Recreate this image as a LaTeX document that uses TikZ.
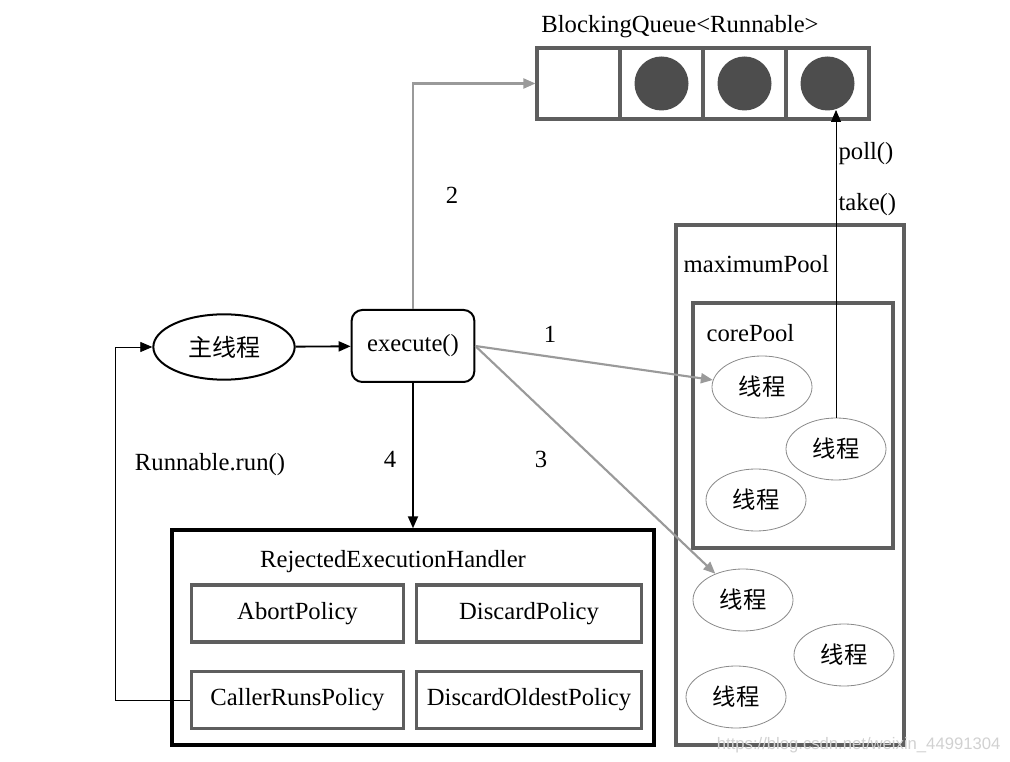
\documentclass[tikz,border=0pt]{standalone}
\usepackage{fontspec}
\setmainfont{Liberation Serif}
\newfontfamily\cjk{Noto Sans CJK SC}
\newfontfamily\marksans{Liberation Sans}
\usetikzlibrary{shapes.geometric,arrows.meta}
\definecolor{boxgray}{HTML}{5E5E5E}
\definecolor{linegray}{HTML}{9A9A9A}
\definecolor{dotgray}{HTML}{4D4D4D}
\definecolor{ringgray}{HTML}{8A8A8A}
\begin{document}
\begin{tikzpicture}[x=0.75pt,y=-0.75pt,font=\fontsize{18.5}{22}\selectfont,
    box/.style={draw=boxgray,line width=2.6pt},
    cell/.style={box,minimum width=62pt,minimum height=53pt,inner sep=0pt},
    policy/.style={box,minimum height=42.5pt,inner sep=0pt},
    thread/.style={ellipse,draw=ringgray,line width=0.6pt,inner sep=0pt,
        minimum width=75pt,minimum height=46.5pt,font=\cjk\fontsize{17.5}{20}\selectfont},
    grayarrow/.style={draw=linegray,line width=1.6pt,
        -{Triangle[length=9pt,width=7.5pt]}},
    blackarrow/.style={line width=1.4pt,-{Triangle[length=9pt,width=7.5pt]}},
    thinarrow/.style={line width=0.6pt,-{Triangle[length=9pt,width=7.5pt]}},
    tag/.style={inner sep=1pt}]
\useasboundingbox (0,0) rectangle (1010,762);

\node[tag] (qlabel) at (680,27) {BlockingQueue<Runnable>};
\foreach \i/\x in {0/578.5,1/661.5,2/744.5,3/827.5}
    \node[cell] (q\i) at (\x,83.5) {};
\foreach \i in {1,2,3}
    \node[circle,fill=dotgray,minimum size=40.5pt,inner sep=0pt] (d\i) at (q\i) {};

\draw[box] (676,225) rectangle (904,745);
\node[tag,anchor=west] (maxlabel) at (682,264) {maximumPool};
\draw[box] (693,303) rectangle (893,548);
\node[tag,anchor=west] (corelabel) at (705,333) {corePool};

\node[thread] (t1) at (762,387) {线程};
\node[thread] (t2) at (836,449) {线程};
\node[thread] (t3) at (756,500) {线程};
\node[thread] (o1) at (743,600) {线程};
\node[thread] (o2) at (844,655) {线程};
\node[thread] (o3) at (736,697) {线程};

\node[ellipse,draw,line width=1.5pt,minimum width=106pt,minimum height=49pt,
    inner sep=0pt,font=\cjk\fontsize{18}{20}\selectfont] (main) at (224,347) {主线程};
\node[draw,rounded corners=8pt,line width=1.5pt,minimum width=92pt,
    minimum height=54pt,inner sep=0pt] (exec) at (413,346) {execute()};

\node[draw,line width=2.8pt,minimum width=361.5pt,minimum height=161pt,
    inner sep=0pt] (handler) at (413,637.5) {};
\node[tag] (hlabel) at (393,562) {RejectedExecutionHandler};
\node[policy,minimum width=159pt] (abort) at (297.5,613.5) {AbortPolicy};
\node[policy,minimum width=169pt] (discard) at (529,613.5) {DiscardPolicy};
\node[policy,minimum width=159pt] (caller) at (297.5,700) {CallerRunsPolicy};
\node[policy,minimum width=169pt] (oldest) at (529,700) {DiscardOldestPolicy};

\draw[blackarrow] (main) -- (exec);
\draw[grayarrow] (exec.north) |- (q0.west);
\draw[grayarrow] (exec.east) -- (t1);
\draw[grayarrow] (exec.east) -- (o1);
\draw[blackarrow] (exec.south) -- (handler.north);
\draw[thinarrow] (t2.north) -- (t2.north |- 0,110);
\coordinate (back) at (115,700);
\draw[thinarrow] (caller.west) -- (back) |- (main.west);

\node[tag] (n2) at (452,195) {2};
\node[tag] (n1) at (550,334) {1};
\node[tag] (n3) at (541,459) {3};
\node[tag] (n4) at (390,459) {4};
\node[tag,anchor=west] (poll) at (837,154) {poll()};
\node[tag,anchor=west] (take) at (837,205) {take()};
\node[tag] (runlabel) at (210,465) {Runnable.run()};
\node[tag,anchor=east,text=black!18,font=\marksans\fontsize{12.5}{14}\selectfont]
    (mark) at (1002,745) {https://blog.csdn.net/weixin\_44991304};
\end{tikzpicture}
\end{document}
